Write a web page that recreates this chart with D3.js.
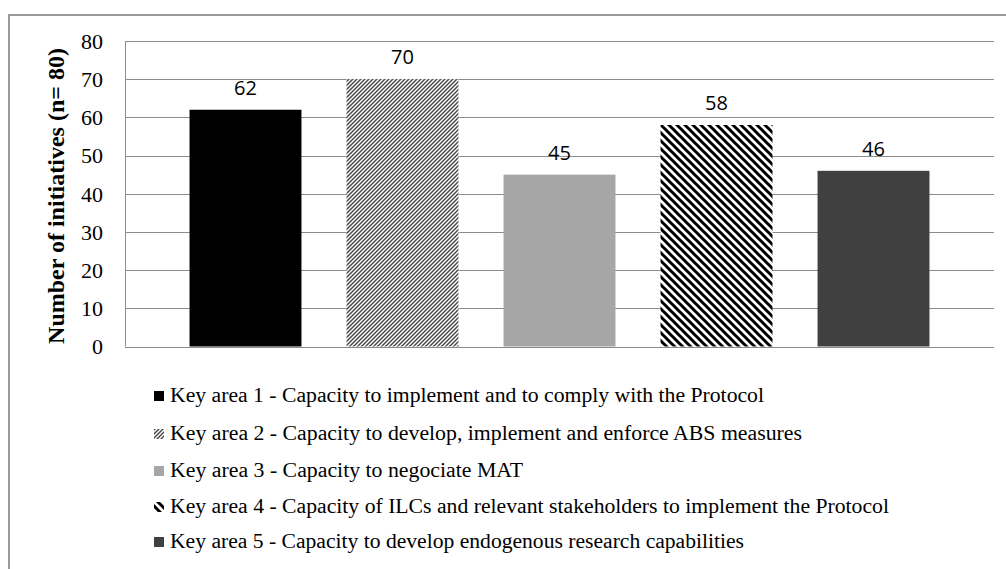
<!DOCTYPE html>
<html>
<head>
<meta charset="utf-8">
<script src="https://cdn.jsdelivr.net/npm/d3@7"></script>
<style>
  html, body { margin: 0; padding: 0; background: #fff; }
  svg { display: block; }
  .serif { font-family: "Liberation Serif", "Times New Roman", serif; }
  .sans { font-family: "Open Sans", "Liberation Sans", sans-serif; }
</style>
</head>
<body>
<svg id="chart" width="1006" height="569"></svg>
<script>
const categories = ["Key area 1", "Key area 2", "Key area 3", "Key area 4", "Key area 5"];
const values = [62, 70, 45, 58, 46];
const legendLabels = [
  "Key area 1 - Capacity to implement and to comply with the Protocol",
  "Key area 2 - Capacity to develop, implement and enforce ABS measures",
  "Key area 3 - Capacity to negociate MAT",
  "Key area 4 - Capacity of ILCs and relevant stakeholders to implement the Protocol",
  "Key area 5 - Capacity to develop endogenous research capabilities"
];
const yTicks = [0, 10, 20, 30, 40, 50, 60, 70, 80];
const yTitle = "Number of initiatives (n= 80)";

const svg = d3.select("#chart");

// patterns
const defs = svg.append("defs");
const p2 = defs.append("pattern").attr("id", "hatchFine")
  .attr("patternUnits", "userSpaceOnUse").attr("width", 4).attr("height", 4);
p2.append("rect").attr("width", 4).attr("height", 4).attr("fill", "#fff");
p2.append("path").attr("d", "M-1,1 l2,-2 M0,4 l4,-4 M3,5 l2,-2")
  .attr("stroke", "#444").attr("stroke-width", 1.4);
const p4 = defs.append("pattern").attr("id", "hatchWide")
  .attr("patternUnits", "userSpaceOnUse").attr("width", 8).attr("height", 8);
p4.append("rect").attr("width", 8).attr("height", 8).attr("fill", "#fff");
p4.append("path").attr("d", "M-2,-2 l12,12 M-2,6 l4,4 M6,-2 l4,4")
  .attr("stroke", "#000").attr("stroke-width", 3);

const fills = ["#000000", "url(#hatchFine)", "#a6a6a6", "url(#hatchWide)", "#404040"];

// outer frame
svg.append("rect").attr("x", 9).attr("y", 15).attr("width", 1010).attr("height", 600)
  .attr("fill", "none").attr("stroke", "#9a9a9a").attr("stroke-width", 2);

const plotLeft = 125, plotRight = 994, plotTop = 41, plotBottom = 346.5;

const y = d3.scaleLinear().domain([0, 80]).range([plotBottom, plotTop]);
const x = d3.scaleBand().domain(categories).range([167, 952])
  .paddingInner(0.287).paddingOuter(0.1435);

// gridlines
svg.append("g").selectAll("line").data(yTicks).join("line")
  .attr("x1", plotLeft).attr("x2", plotRight)
  .attr("y1", d => Math.round(y(d)) + 0.5).attr("y2", d => Math.round(y(d)) + 0.5)
  .attr("stroke", "#8c8c8c").attr("stroke-width", 1);

// left axis line
svg.append("line").attr("x1", plotLeft + 0.5).attr("x2", plotLeft + 0.5)
  .attr("y1", y(80)).attr("y2", y(0)).attr("stroke", "#8c8c8c");

// y axis tick labels
const yAxis = d3.axisLeft(y).tickValues(yTicks).tickSize(0).tickPadding(0);
const gy = svg.append("g").attr("transform", "translate(103,0)").call(yAxis);
gy.attr("font-family", null).attr("font-size", null);
gy.select(".domain").remove();
gy.selectAll("text").attr("class", "serif")
  .style("font-size", "22px").attr("fill", "#000").attr("dy", "0.33em");

// y title
svg.append("text").attr("class", "serif")
  .attr("transform", "translate(64,196) rotate(-90)")
  .attr("text-anchor", "middle")
  .style("font-weight", "bold").style("font-size", "24px").attr("fill", "#000")
  .text(yTitle);

// bars
svg.append("g").selectAll("rect").data(values).join("rect")
  .attr("x", (d, i) => x(categories[i]))
  .attr("width", x.bandwidth())
  .attr("y", d => y(d))
  .attr("height", d => y(0) - y(d))
  .attr("fill", (d, i) => fills[i]);

// value labels
svg.append("g").selectAll("text").data(values).join("text").attr("class", "sans")
  .attr("x", (d, i) => x(categories[i]) + x.bandwidth() / 2)
  .attr("y", d => y(d) - 15)
  .attr("text-anchor", "middle")
  .style("font-size", "20px").attr("fill", "#000")
  .text(d => d);

// legend
const legendTextEnds = [764, 802, 523, 889, 744];
const lg = svg.append("g");
const rowY = [402, 440, 477, 513, 548];
legendLabels.forEach((lab, i) => {
  const g = lg.append("g");
  g.append("rect").attr("x", 154).attr("y", rowY[i] - 11).attr("width", 10).attr("height", 10)
    .attr("fill", fills[i]);
  const t = g.append("text").attr("class", "serif").attr("x", 170).attr("y", rowY[i])
    .style("font-size", "20px").attr("fill", "#000").text(lab);
  t.attr("textLength", legendTextEnds[i] - 170).attr("lengthAdjust", "spacingAndGlyphs");
});
</script>
</body>
</html>
